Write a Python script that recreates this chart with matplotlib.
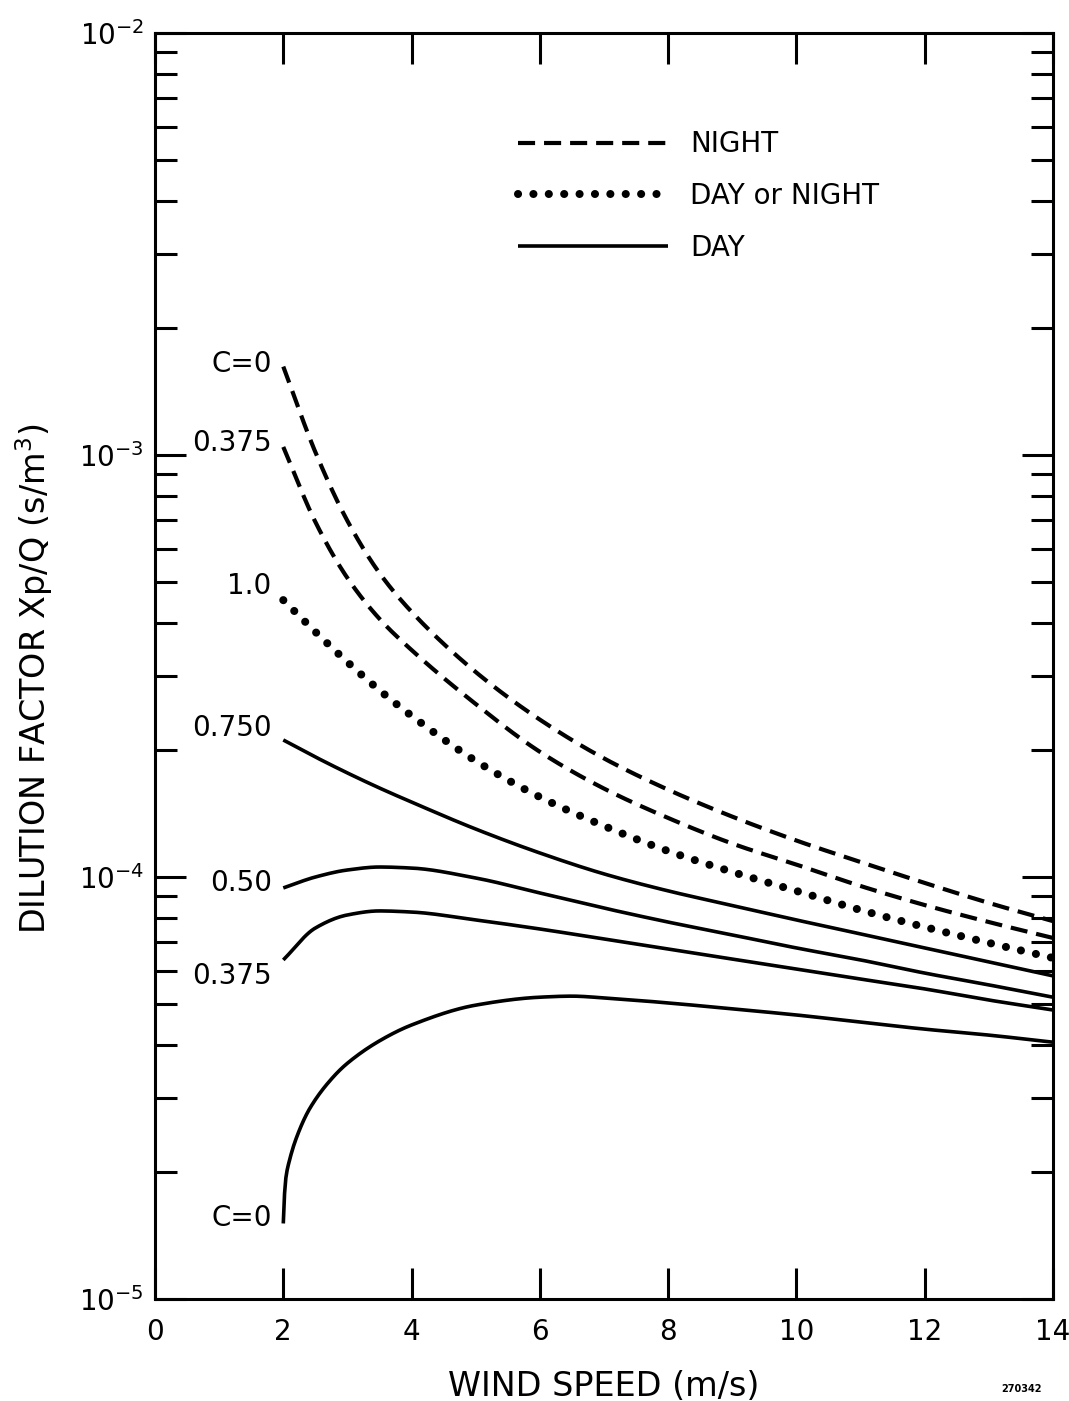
import numpy as np
import matplotlib
matplotlib.use("Agg")
import matplotlib.pyplot as plt
from matplotlib.ticker import LogLocator, NullFormatter, LogFormatterMathtext, FixedLocator
from matplotlib.lines import Line2D

# ---- data ----
wind = [2, 2.5, 3, 3.5, 4, 5, 6, 7, 8, 9, 10, 11, 12, 13, 14]
night_c0 = [1.62e-3, 1.016e-3, 6.98e-4, 5.25e-4, 4.25e-4, 3.06e-4, 2.36e-4, 1.91e-4,
            1.61e-4, 1.39e-4, 1.22e-4, 1.085e-4, 9.68e-5, 8.68e-5, 7.86e-5]
night_c0375 = [1.045e-3, 6.94e-4, 5.11e-4, 4.09e-4, 3.45e-4, 2.57e-4, 1.98e-4, 1.62e-4,
               1.38e-4, 1.20e-4, 1.07e-4, 9.52e-5, 8.58e-5, 7.82e-5, 7.17e-5]
dayornight_c1 = [4.53e-4, 3.81e-4, 3.23e-4, 2.77e-4, 2.41e-4, 1.884e-4, 1.547e-4, 1.321e-4,
                 1.152e-4, 1.028e-4, 9.27e-5, 8.35e-5, 7.61e-5, 6.98e-5, 6.43e-5]
day_c0750 = [2.112e-4, 1.925e-4, 1.764e-4, 1.625e-4, 1.505e-4, 1.299e-4, 1.140e-4, 1.017e-4,
             9.27e-5, 8.56e-5, 7.91e-5, 7.33e-5, 6.79e-5, 6.29e-5, 5.83e-5]
day_c050 = [9.42e-5, 1.000e-4, 1.039e-4, 1.056e-4, 1.050e-4, 9.945e-5, 9.165e-5, 8.44e-5,
            7.82e-5, 7.29e-5, 6.79e-5, 6.36e-5, 5.92e-5, 5.55e-5, 5.19e-5]
day_c0375 = [6.36e-5, 7.57e-5, 8.13e-5, 8.31e-5, 8.26e-5, 7.91e-5, 7.53e-5, 7.13e-5,
             6.75e-5, 6.39e-5, 6.05e-5, 5.73e-5, 5.43e-5, 5.11e-5, 4.84e-5]
wind_day_c0 = [2.0, 2.03, 2.1, 2.25, 2.42, 2.78, 3, 3.5, 4, 5, 6, 6.5, 7, 8, 9, 10, 11, 12, 13, 14]
day_c0 = [1.51e-5, 1.88e-5, 2.14e-5, 2.51e-5, 2.84e-5, 3.36e-5, 3.62e-5, 4.09e-5, 4.46e-5,
          4.97e-5, 5.19e-5, 5.22e-5, 5.17e-5, 5.03e-5, 4.87e-5, 4.71e-5, 4.53e-5, 4.36e-5,
          4.22e-5, 4.06e-5]

curve_labels = ["C=0", "0.375", "1.0", "0.750", "0.50", "0.375", "C=0"]
curve_label_y = [1.64e-3, 1.07e-3, 4.9e-4, 2.25e-4, 9.68e-5, 5.83e-5, 1.56e-5]
curve_label_x = 1.82

legend_labels = ["NIGHT", "DAY or NIGHT", "DAY"]
x_ticks = [0, 2, 4, 6, 8, 10, 12, 14]


def smooth_log(x, y, n=300):
    """Monotone cubic (PCHIP) drawing path through the read points, in log10(y)."""
    x = np.asarray(x, float)
    ly = np.log10(np.asarray(y, float))
    h = np.diff(x)
    dl = np.diff(ly) / h
    m = np.zeros_like(ly)
    for k in range(1, len(x) - 1):
        if dl[k - 1] * dl[k] > 0:
            w1 = 2 * h[k] + h[k - 1]
            w2 = h[k] + 2 * h[k - 1]
            m[k] = (w1 + w2) / (w1 / dl[k - 1] + w2 / dl[k])
    m[0] = dl[0]
    m[-1] = dl[-1]
    xs = np.linspace(x[0], x[-1], n)
    idx = np.clip(np.searchsorted(x, xs, side="right") - 1, 0, len(x) - 2)
    t = (xs - x[idx]) / h[idx]
    h00 = 2 * t**3 - 3 * t**2 + 1
    h10 = t**3 - 2 * t**2 + t
    h01 = -2 * t**3 + 3 * t**2
    h11 = t**3 - t**2
    ys = h00 * ly[idx] + h10 * h[idx] * m[idx] + h01 * ly[idx + 1] + h11 * h[idx] * m[idx + 1]
    return xs, 10 ** ys


# ---- styles ----
DASH = dict(color="black", lw=3.0, linestyle=(0, (4.1, 2.15)), dash_capstyle="butt")
DOT = dict(color="black", lw=5.8, linestyle=(0, (0.01, 1.9)), dash_capstyle="round")
SOLID = dict(color="black", lw=2.6, linestyle="-", solid_capstyle="butt")

plt.rcParams["font.family"] = ["DejaVu Sans"]

fig = plt.figure(figsize=(10.69, 14.01), dpi=100)
ax = fig.add_axes([155 / 1069, 1 - 1299 / 1401, 898 / 1069, 1266 / 1401])

ax.plot(*smooth_log(wind, night_c0), **DASH)
ax.plot(*smooth_log(wind, night_c0375), **DASH)
ax.plot(*smooth_log(wind, dayornight_c1), **DOT)
ax.plot(*smooth_log(wind, day_c0750), **SOLID)
ax.plot(*smooth_log(wind, day_c050), **SOLID)
ax.plot(*smooth_log(wind, day_c0375), **SOLID)
ax.plot(*smooth_log(wind_day_c0, day_c0, n=600), **SOLID)

ax.set_yscale("log")
ax.set_xlim(0, 14)
ax.set_ylim(1e-5, 1e-2)

ax.xaxis.set_major_locator(FixedLocator(x_ticks))
ax.set_xticklabels([str(t) for t in x_ticks])
ax.yaxis.set_major_locator(LogLocator(base=10, numticks=10))
ax.yaxis.set_minor_locator(LogLocator(base=10, subs=range(2, 10), numticks=20))
ax.yaxis.set_major_formatter(LogFormatterMathtext())
ax.yaxis.set_minor_formatter(NullFormatter())

for s in ax.spines.values():
    s.set_linewidth(2.2)

ax.tick_params(axis="x", which="major", direction="in", top=True, bottom=True,
               length=22, width=2.2, labelsize=20, pad=14)
ax.tick_params(axis="y", which="major", direction="in", left=True, right=True,
               length=22, width=2.2, labelsize=20, pad=8)
ax.tick_params(axis="y", which="minor", direction="in", left=True, right=True,
               length=16, width=2.2)

for lab, yv in zip(curve_labels, curve_label_y):
    ax.text(curve_label_x, yv, lab, ha="right", va="center", fontsize=20)

ax.set_xlabel("WIND SPEED (m/s)", fontsize=24, labelpad=17)
ax.set_ylabel(r"DILUTION FACTOR Xp/Q (s/m$^3$)", fontsize=24)
ax.yaxis.set_label_coords(-100 / 898, 0.49)

handles = [Line2D([], [], **DASH), Line2D([], [], **DOT), Line2D([], [], **SOLID)]
ax.legend(handles, legend_labels, loc="upper left", bbox_to_anchor=(0.404, 0.923),
          frameon=False, fontsize=20, handlelength=5.4, handletextpad=0.8,
          labelspacing=0.85, borderpad=0, borderaxespad=0)

fig.text(1022 / 1069, 1 - 1389 / 1401, "270342", fontsize=7, fontweight="bold",
         ha="center", va="center")

fig.savefig("out.png", dpi=100, facecolor="white")
